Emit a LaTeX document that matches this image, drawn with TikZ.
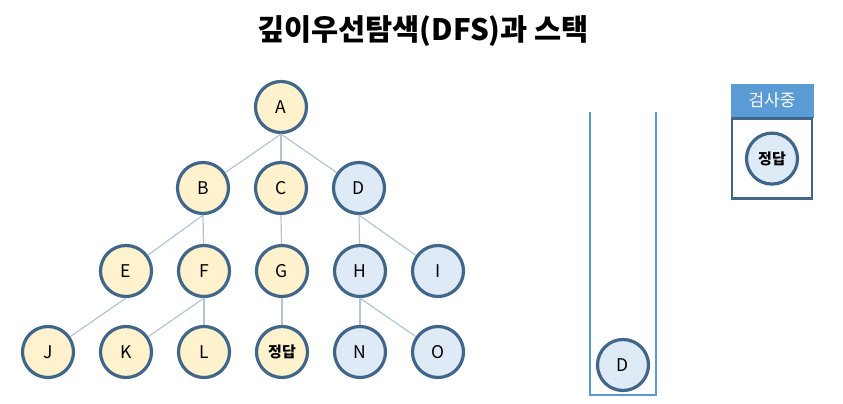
\documentclass[tikz,border=0pt]{standalone}
\usepackage{fontspec}
\setmainfont{Noto Sans CJK KR}
\usetikzlibrary{positioning}
\definecolor{nodeline}{HTML}{41668C}
\definecolor{doneyellow}{HTML}{FFF2CC}
\definecolor{waitblue}{HTML}{DEEBF7}
\definecolor{edgegray}{HTML}{B4C3D4}
\definecolor{stackblue}{HTML}{5B9BD5}

\begin{document}
\begin{tikzpicture}[x=1pt, y=1pt, node distance=78pt]
    \tikzstyle{visited} = [circle, draw=nodeline, line width=3.2pt, fill=doneyellow, minimum size=51pt, inner sep=0pt, font=\fontsize{17.5}{19}\selectfont]
    \tikzstyle{waiting} = [visited, fill=waitblue]
    \tikzstyle{edge} = [draw=edgegray, line width=1.2pt]
    \tikzstyle{answer} = [font=\fontsize{15}{17}\selectfont\bfseries]

    \useasboundingbox (0,0) rectangle (843,-404);

    % 제목
    \node[font=\fontsize{29.5}{32}\selectfont\bfseries] (title) at (423,-31) {깊이우선탐색(DFS)과 스택};

    % 트리 노드
    \node[visited] (A) at (281,-107) {A};
    \node[visited, below of=A, yshift=-3pt, xshift=-78pt] (B) {B};
    \node[visited, right of=B] (C) {C};
    \node[waiting, right of=C] (D) {D};

    \node[visited, below of=B, yshift=-5pt, xshift=-77pt] (E) {E};
    \node[visited, right of=E] (F) {F};
    \node[visited, right of=F] (G) {G};
    \node[waiting, right of=G] (H) {H};
    \node[waiting, right of=H] (I) {I};

    \node[visited, below of=E, yshift=-3pt, xshift=-78pt] (J) {J};
    \node[visited, right of=J] (K) {K};
    \node[visited, right of=K] (L) {L};
    \node[visited, right of=L, answer] (goal) {정답};
    \node[waiting, right of=goal] (N) {N};
    \node[waiting, right of=N] (O) {O};

    % 간선
    \path [edge] (A.south) -- (B);
    \path [edge] (A.south) -- (C);
    \path [edge] (A.south) -- (D);
    \path [edge] (B.south) -- (E);
    \path [edge] (B.south) -- (F);
    \path [edge] (C.south) -- (G);
    \path [edge] (D.south) -- (H);
    \path [edge] (D.south) -- (I);
    \path [edge] (E.south) -- (J);
    \path [edge] (F.south) -- (K);
    \path [edge] (F.south) -- (L);
    \path [edge] (G.south) -- (goal);
    \path [edge] (H.south) -- (N);
    \path [edge] (H.south) -- (O);

    % 스택
    \coordinate (stacktl) at (590,-112);
    \coordinate (stacktr) at (656,-112);
    \draw[stackblue, line width=2.8pt] (stacktl) |- (623,-395) -| (stacktr);
    \node[waiting] (top) at (623,-365) {D};

    % 검사중
    \node[rectangle, fill=stackblue, draw=stackblue, minimum width=82pt, minimum height=33pt, inner sep=0pt, text=white, font=\fontsize{17}{19}\selectfont] (checkhead) at (772,-100.5) {검사중};
    \node[rectangle, draw=nodeline, line width=2.8pt, minimum width=80pt, minimum height=80pt, below=0pt of checkhead] (checkbox) {};
    \node[waiting, answer] (current) at (checkbox.center) {정답};
\end{tikzpicture}
\end{document}
